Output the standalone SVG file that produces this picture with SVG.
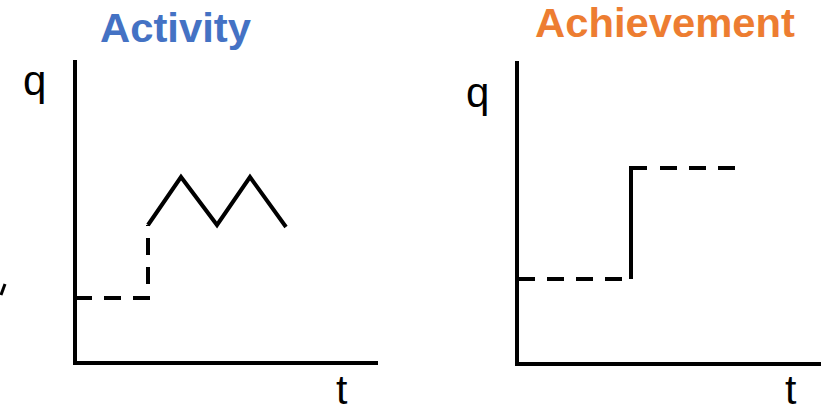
<svg xmlns="http://www.w3.org/2000/svg" width="821" height="413" viewBox="0 0 821 413">
<style>
.axis{stroke:#000;stroke-width:4;fill:none;stroke-linecap:square}
.solid{stroke:#000;stroke-width:4;fill:none;stroke-linejoin:miter}
.dash{stroke:#000;stroke-width:4;fill:none}
.lbl{font-family:"Liberation Sans",Arial,sans-serif;font-size:42px;fill:#000}
.title{font-family:"Liberation Sans",Arial,sans-serif;font-size:40px;font-weight:bold}
</style>
<rect width="821" height="413" fill="#fff"/>
<g id="activity-chart">
  <text class="title" x="100" y="42" fill="#4472C4" textLength="151" lengthAdjust="spacingAndGlyphs">Activity</text>
  <text class="lbl" x="23" y="95">q</text>
  <text class="lbl" x="336" y="404" style="font-size:41px">t</text>
  <path class="axis" d="M75,62 V363 H376"/>
</g>
<g id="achievement-chart">
  <text class="title" x="535" y="37" fill="#ED7D31" textLength="260" lengthAdjust="spacingAndGlyphs">Achievement</text>
  <text class="lbl" x="466" y="107">q</text>
  <text class="lbl" x="785" y="404" style="font-size:41px">t</text>
  <path class="axis" d="M517,63 V364 H819"/>
</g>
<g id="connectors">
  <path class="dash" d="M75,298 H148 V225" stroke-dasharray="17 12"/>
  <path class="solid" d="M148,225 L181,177 L217,225 L250,177 L286,227"/>
  <path class="dash" d="M518,279 H622" stroke-dasharray="17 12"/>
  <path class="solid" d="M631,279 V168 H647"/>
  <path class="dash" d="M660,168 H736" stroke-dasharray="17 12"/>
  <path d="M5,284 L1,295" stroke="#000" stroke-width="3"/>
</g>
</svg>
